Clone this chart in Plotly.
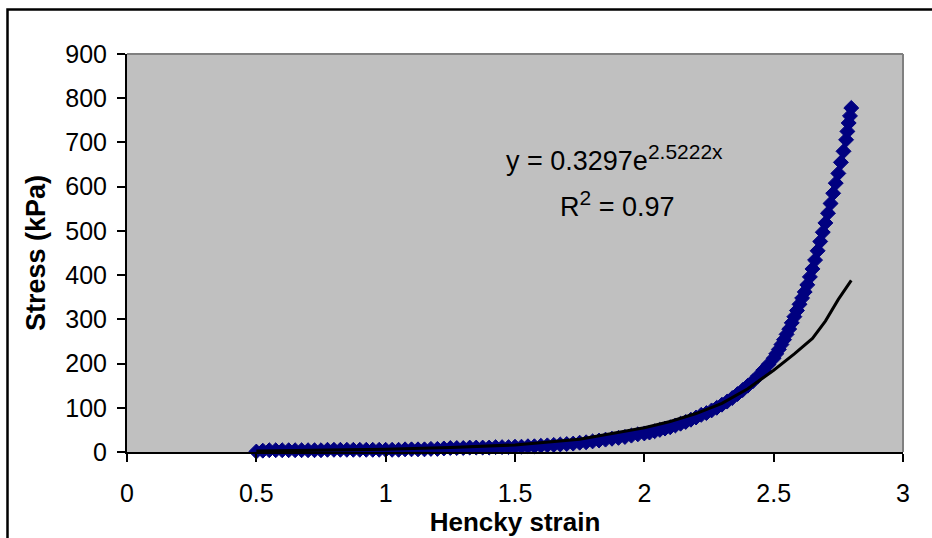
import plotly.graph_objects as go

strain = [0.500, 0.525, 0.550, 0.575, 0.600, 0.625, 0.650, 0.675, 0.700, 0.725,
          0.750, 0.775, 0.800, 0.825, 0.850, 0.875, 0.900, 0.925, 0.950, 0.975,
          1.000, 1.025, 1.050, 1.075, 1.100, 1.125, 1.150, 1.175, 1.200, 1.225,
          1.250, 1.275, 1.300, 1.325, 1.350, 1.375, 1.400, 1.425, 1.450, 1.475,
          1.500, 1.525, 1.550, 1.575, 1.600, 1.625, 1.650, 1.675, 1.700, 1.725,
          1.750, 1.775, 1.800, 1.825, 1.850, 1.875, 1.900, 1.925, 1.950, 1.975,
          2.00, 2.02, 2.04, 2.06, 2.08, 2.10, 2.12, 2.14, 2.16, 2.18,
          2.20, 2.22, 2.24, 2.26, 2.28, 2.30, 2.32, 2.34, 2.36, 2.38,
          2.40, 2.42, 2.44, 2.46, 2.48, 2.50, 2.51, 2.52, 2.53, 2.54,
          2.55, 2.56, 2.57, 2.58, 2.59, 2.60, 2.61, 2.62, 2.63, 2.64,
          2.65, 2.66, 2.67, 2.68, 2.69, 2.70, 2.71, 2.72, 2.73, 2.74,
          2.75, 2.76, 2.77, 2.78, 2.785, 2.79, 2.795, 2.80]
stress = [1, 3, 4, 4, 4, 4, 4, 4, 4, 4,
          4, 5, 5, 5, 5, 5, 5, 5, 5, 5,
          5, 5, 5, 6, 6, 6, 6, 7, 7, 8,
          9, 9, 9, 10, 10, 10, 10, 11, 11, 11,
          12, 12, 13, 13, 14, 15, 16, 17, 18, 19,
          21, 22, 24, 26, 28, 30, 32, 34, 37, 40,
          42, 44, 47, 50, 53, 56, 60, 64, 68, 73,
          78, 84, 88, 94, 100, 107, 114, 122, 131, 140,
          150, 160, 172, 185, 198, 212, 222, 232, 243, 254,
          266, 278, 292, 306, 320, 334, 348, 362, 378, 396,
          414, 434, 455, 476, 497, 518, 540, 562, 585, 608,
          630, 655, 680, 706, 725, 744, 760, 778]

# Exponential trend line as drawn in the reference
fit_strain = [0.5, 0.75, 1.0, 1.25, 1.5, 1.75, 2.0, 2.1, 2.2, 2.3, 2.4, 2.5, 2.58, 2.65, 2.7, 2.75, 2.8]
fit_stress = [2, 4, 6, 10, 16, 29, 55, 69, 87, 110, 143, 185, 222, 257, 296, 345, 388]

x_ticks = [0, 0.5, 1, 1.5, 2, 2.5, 3]
x_tick_labels = ["0", "0.5", "1", "1.5", "2", "2.5", "3"]
y_ticks = [0, 100, 200, 300, 400, 500, 600, 700, 800, 900]

FONT = "Arial, 'Liberation Sans', sans-serif"

fig = go.Figure()
fig.add_trace(go.Scatter(
    x=strain, y=stress, mode="markers",
    marker=dict(symbol="diamond", size=11.5, color="#000080",
                line=dict(width=1, color="#000080")),
    showlegend=False, cliponaxis=False))
fig.add_trace(go.Scatter(
    x=fit_strain, y=fit_stress, mode="lines",
    line=dict(color="black", width=3),
    showlegend=False))

L, R, T, B = 127, 903, 54, 452
W, H = 932, 538
pw, ph = R - L, B - T

def px(p):
    return (p - L) / pw

def py(q):
    return (B - q) / ph

shapes = [
    dict(type="line", xref="paper", yref="paper", x0=0, x1=1, y0=1, y1=1,
         line=dict(color="#808080", width=2)),
    dict(type="line", xref="paper", yref="paper", x0=1, x1=1, y0=0, y1=1,
         line=dict(color="#808080", width=2)),
    dict(type="rect", xref="paper", yref="paper",
         x0=px(7.5), x1=px(945), y0=py(560), y1=py(9.5),
         line=dict(color="black", width=2.5), fillcolor="rgba(0,0,0,0)",
         layer="below"),
]

fig.update_layout(
    width=W, height=H,
    margin=dict(l=L, r=W - R, t=T, b=H - B, pad=0),
    paper_bgcolor="white", plot_bgcolor="#C0C0C0",
    font=dict(family=FONT, color="black", size=25),
    shapes=shapes,
    xaxis=dict(range=[0, 3], tickvals=x_ticks, ticktext=x_tick_labels,
               showgrid=False, zeroline=False, showline=True,
               linecolor="black", linewidth=2, ticks="outside",
               ticklen=8, tickwidth=1.5, tickcolor="black",
               ticklabelstandoff=10,
               tickfont=dict(size=25, family=FONT),
               title=dict(text="<b>Hencky strain</b>", standoff=2,
                          font=dict(size=26, family=FONT))),
    yaxis=dict(range=[0, 900], tickvals=y_ticks,
               showgrid=False, zeroline=False, showline=True,
               linecolor="black", linewidth=2, ticks="outside",
               ticklen=8, tickwidth=1.5, tickcolor="black",
               ticklabelstandoff=5,
               tickfont=dict(size=25, family=FONT),
               title=dict(text="<b>Stress (kPa)</b>", standoff=12,
                          font=dict(size=27, family=FONT))),
    annotations=[
        dict(text="y = 0.3297e<sup><span style='font-size:21px'>2.5222x</span></sup>",
             xref="paper", yref="paper",
             x=px(614), y=py(138), showarrow=False,
             font=dict(size=27, family=FONT, color="black")),
        dict(text="R<sup><span style='font-size:21px'>2</span></sup> = 0.97",
             xref="paper", yref="paper",
             x=px(617), y=py(204), showarrow=False,
             font=dict(size=27, family=FONT, color="black")),
    ],
)

fig.write_html("out.html")
